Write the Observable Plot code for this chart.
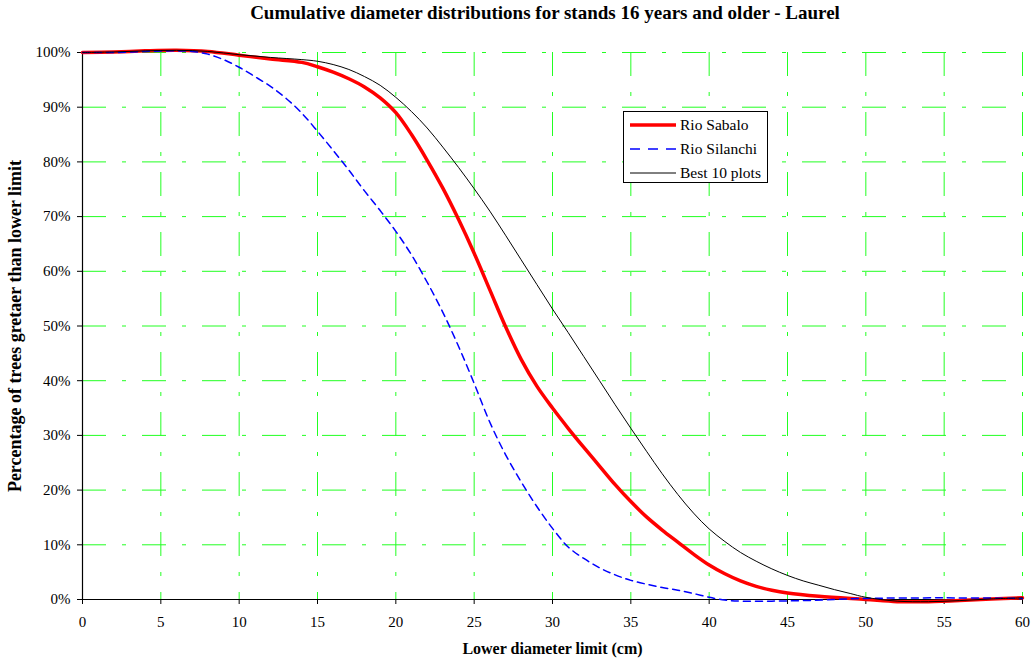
<!DOCTYPE html>
<html>
<head>
<meta charset="utf-8">
<script src="https://cdn.jsdelivr.net/npm/d3@7"></script>
<script src="https://cdn.jsdelivr.net/npm/@observablehq/plot@0.6"></script>
<style>
  body { margin: 0; background: #fff; font-family: "Liberation Serif", "Times New Roman", serif; }
  #wrap { position: relative; width: 1032px; height: 659px; overflow: hidden; }
  #title { height: 28px; box-sizing: border-box; padding-left: 58px; text-align: center;
           font-weight: bold; font-size: 19px; line-height: 26px; color: #000; }
  #legend { position: absolute; left: 623px; top: 111px; width: 145px; height: 72px; box-sizing: border-box;
            border: 1px solid #000; background: #fff; font-size: 15.5px; }
  #legend .row { position: absolute; left: 5px; height: 20px; display: flex; align-items: center; }
  #legend svg { margin-right: 3px; }
  g[aria-label="x-axis label"] { font-weight: bold; font-size: 16px; }
  g[aria-label="y-axis label"] { font-weight: bold; font-size: 18px; }
</style>
</head>
<body>
<div id="wrap">
  <div id="title"></div>
  <div id="chart"></div>
  <div id="legend"></div>
</div>
<script>
const titleText = "Cumulative diameter distributions for stands 16 years and older - Laurel";
const xLabel = "Lower diameter limit (cm)";
const yLabel = "Percentage of trees gretaer than lower limit";
const seriesNames = ["Rio Sabalo", "Rio Silanchi", "Best 10 plots"];
const xTicks = [0, 5, 10, 15, 20, 25, 30, 35, 40, 45, 50, 55, 60];
const yTicks = [0, 10, 20, 30, 40, 50, 60, 70, 80, 90, 100];

// Rio Sabalo (red, thick)
const sabaloX = [0, 2, 4, 6, 8, 10, 12, 14, 15, 16, 17, 18, 19, 20, 21, 22, 23, 24, 25, 26, 27, 28, 29, 30, 31, 32, 33, 34, 35, 36, 37, 38, 39, 40, 41, 42, 43, 44, 45, 47, 50, 52, 54, 56, 58, 60];
const sabaloY = [100, 100.1, 100.3, 100.4, 100.2, 99.5, 98.8, 98.2, 97.4, 96.4, 95.2, 93.7, 91.7, 89, 85, 80.3, 75.2, 69.5, 63.3, 56.6, 49.9, 43.9, 39, 35, 31.3, 27.8, 24.4, 21, 17.9, 15.1, 12.7, 10.5, 8.3, 6.3, 4.7, 3.4, 2.4, 1.7, 1.2, 0.6, 0, -0.4, -0.4, -0.2, 0.1, 0.3];

// Rio Silanchi (blue, dashed)
const silanchiX = [0, 2, 4, 6, 7, 8, 9, 10, 11, 12, 13, 14, 15, 16, 17, 18, 19, 20, 21, 22, 23, 24, 25, 26, 27, 28, 29, 30, 31, 32, 33, 34, 35, 36, 37, 38, 39, 40, 41, 42, 44, 46, 48, 50, 55, 60];
const silanchiY = [100, 100, 100.2, 100.3, 100.2, 99.7, 98.7, 97.3, 95.6, 93.8, 91.6, 88.9, 85.6, 82.1, 78.5, 74.7, 71.1, 67.3, 63, 58, 52.5, 46.3, 39.5, 32.4, 26.5, 21.5, 17, 13, 9.6, 7.5, 5.8, 4.5, 3.5, 2.8, 2.2, 1.7, 1.1, 0.4, -0.1, -0.3, -0.3, -0.2, 0, 0.2, 0.3, 0.2];

// Best 10 plots (black, thin)
const bestX = [0, 2, 4, 6, 8, 10, 12, 14, 15, 16, 17, 18, 19, 20, 21, 22, 23, 24, 25, 26, 27, 28, 29, 30, 31, 32, 33, 34, 35, 36, 37, 38, 39, 40, 41, 42, 43, 44, 45, 46, 47, 48, 49, 50, 52, 54, 56, 58, 60];
const bestY = [100, 100.1, 100.3, 100.4, 100.2, 99.6, 99.1, 98.7, 98.4, 97.8, 96.9, 95.6, 94, 91.8, 89.2, 86.2, 82.7, 79, 75.1, 71, 66.6, 62.1, 57.6, 53.1, 48.8, 44.4, 40, 35.6, 31.3, 27.1, 23, 19.2, 15.8, 12.9, 10.6, 8.6, 7, 5.6, 4.4, 3.4, 2.6, 1.8, 1.1, 0.4, -0.3, -0.4, -0.2, 0.1, 0.3];

const colors = ["#ff0000", "#0000ff", "#000000"];
const widths = [3.5, 1.5, 1];
const dashes = [null, "7,5", null];

const toRows = (xs, ys, name) => xs.map((x, i) => ({x, y: ys[i], series: name}));
const rows = [
  toRows(sabaloX, sabaloY, seriesNames[0]),
  toRows(silanchiX, silanchiY, seriesNames[1]),
  toRows(bestX, bestY, seriesNames[2])
];

document.getElementById("title").textContent = titleText;

const gridColor = "#22ff22";
const gridDash = "24,16,4,16";

const chart = Plot.plot({
  width: 1032,
  height: 631,
  marginTop: 24,
  marginBottom: 60,
  marginLeft: 82,
  marginRight: 10,
  style: { fontFamily: "'Liberation Serif', 'Times New Roman', serif", fontSize: "15px", color: "#000", background: "#fff" },
  x: { domain: [0, 60] },
  y: { domain: [0, 100] },
  marks: [
    Plot.gridX(xTicks.filter(d => d > 0), { stroke: gridColor, strokeOpacity: 1, strokeWidth: 1, strokeDasharray: gridDash }),
    Plot.gridY(yTicks.filter(d => d > 0), { stroke: gridColor, strokeOpacity: 1, strokeWidth: 1, strokeDasharray: gridDash }),
    Plot.axisX(xTicks, { tickSize: 5, tickPadding: 12, label: xLabel, labelAnchor: "center", labelArrow: "none", labelOffset: 54 }),
    Plot.axisY(yTicks, { tickSize: 5, tickPadding: 7, tickFormat: d => d + "%", label: yLabel, labelAnchor: "center", labelArrow: "none", labelOffset: 74 }),
    Plot.ruleX([0], { stroke: "#000", strokeWidth: 1.2 }),
    Plot.ruleY([0], { stroke: "#000", strokeWidth: 1.2 }),
    ...rows.map((r, i) => Plot.line(r, { x: "x", y: "y", stroke: colors[i], strokeWidth: widths[i], strokeDasharray: dashes[i], curve: "catmull-rom" }))
  ]
});
document.getElementById("chart").appendChild(chart);

// legend
const legend = document.getElementById("legend");
const rowTops = [3, 27, 51];
seriesNames.forEach((name, i) => {
  const row = document.createElement("div");
  row.className = "row";
  row.style.top = rowTops[i] + "px";
  const sw = d3.create("svg").attr("width", 48).attr("height", 20);
  sw.append("line").attr("x1", 1).attr("x2", 47).attr("y1", 10).attr("y2", 10)
    .attr("stroke", colors[i]).attr("stroke-width", widths[i])
    .attr("stroke-dasharray", dashes[i] ? "10,8" : null);
  row.appendChild(sw.node());
  const t = document.createElement("span");
  t.textContent = name;
  row.appendChild(t);
  legend.appendChild(row);
});
</script>
</body>
</html>
